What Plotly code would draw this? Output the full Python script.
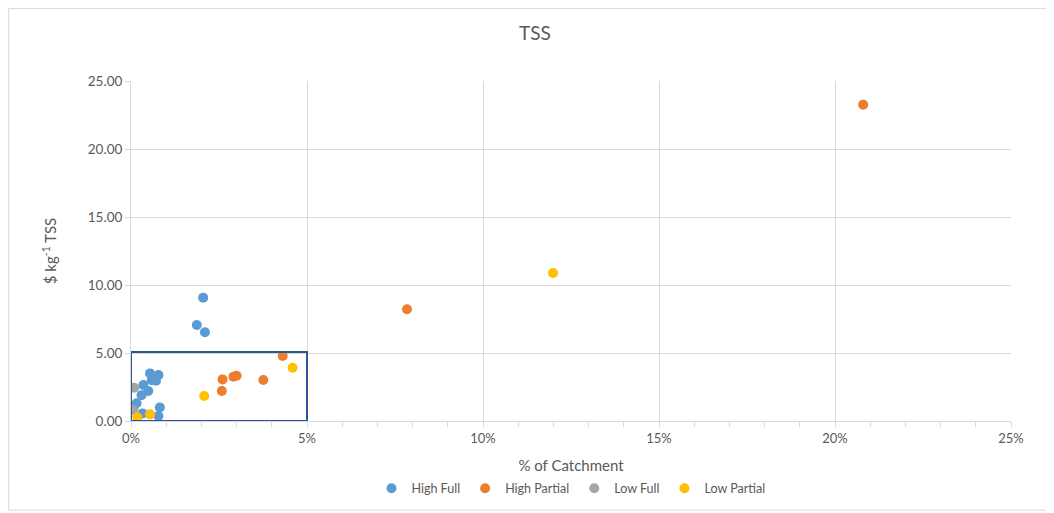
import plotly.graph_objects as go

# Data (x as fraction of catchment, y in $ per kg TSS)
high_full_x = [0.0205, 0.0187, 0.0210, 0.0054, 0.0078, 0.0071, 0.0059, 0.0035, 0.0049, 0.0030, 0.0016, 0.0007, 0.0082, 0.0033, 0.0078]
high_full_y = [9.07, 7.06, 6.52, 3.50, 3.38, 2.96, 3.00, 2.65, 2.20, 1.90, 1.30, 0.93, 1.00, 0.56, 0.37]
high_partial_x = [0.2080, 0.0784, 0.0431, 0.0260, 0.0258, 0.0291, 0.0300, 0.0376]
high_partial_y = [23.26, 8.22, 4.78, 3.06, 2.20, 3.26, 3.33, 3.01]
low_full_x = [0.0009, 0.0005]
low_full_y = [2.45, 0.80]
low_partial_x = [0.1199, 0.0459, 0.0208, 0.0018, 0.0054]
low_partial_y = [10.88, 3.92, 1.84, 0.27, 0.49]

series_names = ["High Full", "High Partial", "Low Full", "Low Partial"]
series_colors = ["#5B9BD5", "#ED7D31", "#A5A5A5", "#FFC000"]

highlight_box = dict(x0=0.0, x1=0.05, y0=0.0, y1=5.07)

x_ticks = [0, 0.05, 0.10, 0.15, 0.20, 0.25]
y_ticks = [0, 5, 10, 15, 20, 25]

font_family = "Lato, 'Open Sans', sans-serif"
text_color = "#595959"

fig = go.Figure()
for name, color, xs, ys in zip(
    series_names, series_colors,
    [high_full_x, high_partial_x, low_full_x, low_partial_x],
    [high_full_y, high_partial_y, low_full_y, low_partial_y],
):
    fig.add_trace(go.Scatter(
        x=xs, y=ys, mode="markers", name=name,
        marker=dict(color=color, size=10, line=dict(width=0)),
    ))

fig.add_shape(type="rect", xref="x", yref="y",
              x0=highlight_box["x0"], x1=highlight_box["x1"],
              y0=highlight_box["y0"], y1=highlight_box["y1"],
              line=dict(color="#2F5597", width=2), fillcolor="rgba(0,0,0,0)", layer="above")

# chart-area border
fig.add_shape(type="rect", xref="paper", yref="paper",
              x0=-0.139, x1=1.08, y0=-0.262, y1=1.213,
              line=dict(color="#D9D9D9", width=1), layer="below")

fig.update_layout(
    width=1054, height=513,
    margin=dict(l=123, r=51, t=73, b=100),
    paper_bgcolor="white", plot_bgcolor="white",
    font=dict(family=font_family, color=text_color, size=13),
    title=dict(text="TSS", x=0.5, xanchor="center", y=0.951, yanchor="middle",
               font=dict(size=19, color=text_color)),
    showlegend=True,
    legend=dict(orientation="h", x=0.5, xanchor="center", y=-0.155, yanchor="top",
                font=dict(size=12.5, color=text_color), itemwidth=30, tracegroupgap=0,
                bgcolor="rgba(0,0,0,0)"),
)

fig.update_xaxes(
    range=[0, 0.25], tickvals=x_ticks, tickformat=".0%", automargin=False,
    showgrid=True, gridcolor="#D9D9D9", gridwidth=1,
    showline=True, linecolor="#D9D9D9", linewidth=1,
    zeroline=False, ticks="outside", ticklen=5, tickcolor="#D9D9D9",
    minor=dict(dtick=0.01, ticks="outside", ticklen=5, tickcolor="#D9D9D9", showgrid=False),
    title=dict(text="% of Catchment", font=dict(size=15, color=text_color), standoff=15),
    tickfont=dict(size=13, color=text_color),
)
fig.update_yaxes(
    range=[0, 25], tickvals=y_ticks, tickformat=".2f", automargin=False,
    showgrid=True, gridcolor="#D9D9D9", gridwidth=1,
    showline=True, linecolor="#D9D9D9", linewidth=1,
    zeroline=False, ticks="outside", ticklen=5, tickcolor="#D9D9D9",
    title=dict(text="$ kg<sup>-1</sup> TSS", font=dict(size=15, color=text_color), standoff=27),
    tickfont=dict(size=13.5, color=text_color),
)

fig.write_html("out.html")
